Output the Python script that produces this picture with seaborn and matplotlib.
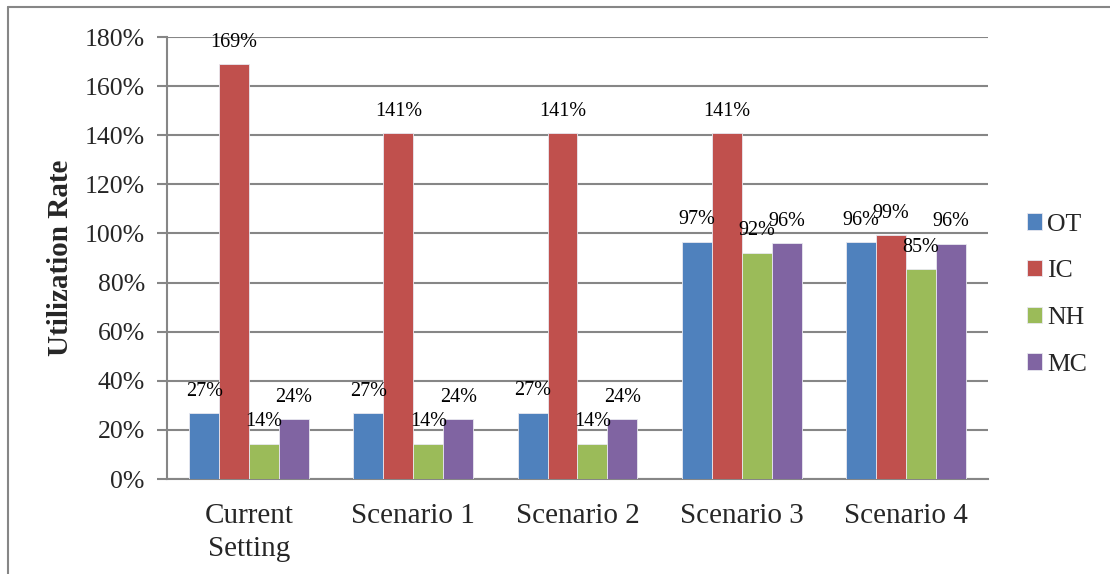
import matplotlib
matplotlib.use("Agg")
import matplotlib.pyplot as plt
import seaborn as sns
import pandas as pd
from matplotlib.lines import Line2D
from matplotlib.ticker import FuncFormatter

categories = ["Current\nSetting", "Scenario 1", "Scenario 2", "Scenario 3", "Scenario 4"]
series = ["OT", "IC", "NH", "MC"]
ot = [26.7, 26.8, 27.0, 96.6, 96.4]
ic = [169.0, 140.8, 140.8, 140.8, 99.3]
nh = [14.3, 14.3, 14.3, 92.1, 85.4]
mc = [24.3, 24.3, 24.3, 96.0, 95.9]
labels_txt = {
    "OT": ["27%", "27%", "27%", "97%", "96%"],
    "IC": ["169%", "141%", "141%", "141%", "99%"],
    "NH": ["14%", "14%", "14%", "92%", "85%"],
    "MC": ["24%", "24%", "24%", "96%", "96%"],
}
colors = ["#4F81BD", "#C0504D", "#9BBB59", "#8064A2"]

rows = []
for s, vals in zip(series, [ot, ic, nh, mc]):
    for c, v in zip(categories, vals):
        rows.append({"Category": c, "Series": s, "Value": v})
df = pd.DataFrame(rows)

sns.set_theme(style="white")
plt.rcParams["font.family"] = ["Liberation Serif", "DejaVu Serif"]

fig = plt.figure(figsize=(11.1, 5.74), dpi=100)
ax = fig.add_axes([0.1505, 0.1655, 0.7395, 0.77])

sns.barplot(data=df, x="Category", y="Value", hue="Series", order=categories,
            hue_order=series, palette=colors, saturation=1, width=0.73,
            edgecolor="#E8E8F0", linewidth=0.6, ax=ax, legend=True, zorder=3)

for cont, s in zip(ax.containers, series):
    ax.bar_label(cont, labels=labels_txt[s], padding=9, fontsize=14.5, color="black")

ax.set_ylim(0, 180)
ax.set_yticks(range(0, 181, 20))
ax.yaxis.set_major_formatter(FuncFormatter(lambda v, p: f"{int(v)}%"))
ax.set_xlim(-0.5, 4.5)
ax.yaxis.grid(True, color="#868686", linewidth=1.5, zorder=0)
ax.set_axisbelow(True)
for side in ["top", "right"]:
    ax.spines[side].set_visible(False)
for side in ["left", "bottom"]:
    ax.spines[side].set_color("#868686")
    ax.spines[side].set_linewidth(1.5)
ax.tick_params(axis="y", length=7, width=1.5, color="#868686", labelsize=18.5, pad=9, left=True)
ax.tick_params(axis="x", length=0, labelsize=21, pad=17)
for t in ax.get_xticklabels():
    t.set_linespacing(1.35)
ax.set_xlabel("")
ax.set_ylabel("Utilization Rate", fontsize=21, fontweight="bold", labelpad=8)

leg = ax.legend(loc="center left", bbox_to_anchor=(0.925, 0.487), bbox_transform=fig.transFigure,
                frameon=False, fontsize=18.5, handlelength=0.6, handleheight=0.6,
                handletextpad=0.2, labelspacing=0.95, borderaxespad=0, borderpad=0)

fig.add_artist(Line2D([0.0075, 0.0075], [0, 0.988], transform=fig.transFigure, color="#868686", linewidth=1.5))
fig.add_artist(Line2D([0.0075, 1.0], [0.988, 0.988], transform=fig.transFigure, color="#868686", linewidth=1.5))

fig.savefig("out.png", dpi=100)
